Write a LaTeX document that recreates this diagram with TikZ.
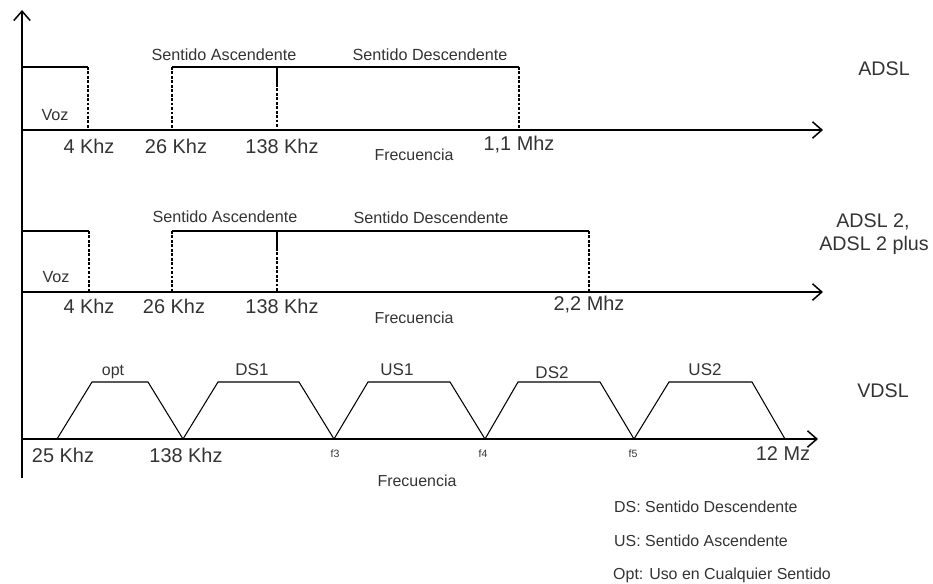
\documentclass[tikz,border=0pt]{standalone}
\usepackage{fontspec}
\setmainfont{Liberation Sans}
\usetikzlibrary{arrows.meta}
\definecolor{txt}{HTML}{333333}
\tikzset{
  axisline/.style={line width=1.6pt, -{Straight Barb[length=8pt,width=14pt,line width=1.3pt]}},
  boxline/.style={line width=1.4pt},
  dashline/.style={line width=1.4pt, dash pattern=on 2.4pt off 1.4pt},
  trap/.style={line width=0.9pt},
  big/.style={text=txt, inner sep=0pt, font=\fontsize{17}{19}\selectfont},
  mid/.style={text=txt, inner sep=0pt, font=\fontsize{13.8}{16}\selectfont},
  lab/.style={text=txt, inner sep=0pt, font=\fontsize{14.5}{16}\selectfont},
  small/.style={text=txt, inner sep=0pt, font=\fontsize{13.6}{15}\selectfont},
  tiny/.style={text=txt, inner sep=0pt, font=\fontsize{9}{10}\selectfont},
  leg/.style={text=txt, inner sep=0pt, anchor=west, font=\fontsize{13.6}{15}\selectfont},
  title/.style={text=txt, inner sep=0pt, font=\fontsize{16.8}{19}\selectfont},
}
\begin{document}
\begin{tikzpicture}[x=0.03cm, y=-0.03cm]
\useasboundingbox (0,0) rectangle (933,583);
% vertical axis
\coordinate (vb) at (22,478);
\coordinate (vt) at (22,10);
\draw[axisline] (vb) -- (vt);

% ===== ADSL =====
\coordinate (a0) at (22,130); \coordinate (aE) at (823,130);
\draw[axisline] (a0) -- (aE);
\coordinate (a1t) at (22,67); \coordinate (a2t) at (88,67); \coordinate (a2b) at (88,130);
\draw[boxline] (a1t) -- (a2t);
\draw[dashline] (a2t) -- (a2b);
\coordinate (a3t) at (172,67); \coordinate (a3b) at (172,130);
\coordinate (a4t) at (519,67); \coordinate (a4b) at (519,130);
\draw[boxline] (a3t) -- (a4t);
\draw[dashline] (a3t) -- (a3b);
\draw[dashline] (a4t) -- (a4b);
\coordinate (a5t) at (277,67); \coordinate (a5m) at (277,84); \coordinate (a5b) at (277,130);
\draw[boxline] (a5t) -- (a5m);
\draw[dashline] (a5m) -- (a5b);
\node[mid] (avoz) at (55,115) {Voz};
\node[big] (a4k) at (89,146) {4 Khz};
\node[big] (a26k) at (176,146) {26 Khz};
\node[big] (a138k) at (282,146) {138 Khz};
\node[big] (a11m) at (519,145) {1,1 Mhz};
\node[small] (afr) at (414,155) {Frecuencia};
\node[mid] (aasc) at (224,55) {Sentido Ascendente};
\node[mid] (ades) at (430,55) {Sentido Descendente};
\node[title] (adsl) at (884,69) {ADSL};

% ===== ADSL 2 =====
\coordinate (b0) at (22,292); \coordinate (bE) at (823,292);
\draw[axisline] (b0) -- (bE);
\coordinate (b1t) at (22,231); \coordinate (b2t) at (89,231); \coordinate (b2b) at (89,292);
\draw[boxline] (b1t) -- (b2t);
\draw[dashline] (b2t) -- (b2b);
\coordinate (b3t) at (172,231); \coordinate (b3b) at (172,292);
\coordinate (b4t) at (589,231); \coordinate (b4b) at (589,292);
\draw[boxline] (b3t) -- (b4t);
\draw[dashline] (b3t) -- (b3b);
\draw[dashline] (b4t) -- (b4b);
\coordinate (b5t) at (277,231); \coordinate (b5m) at (277,248); \coordinate (b5b) at (277,292);
\draw[boxline] (b5t) -- (b5m);
\draw[dashline] (b5m) -- (b5b);
\node[mid] (bvoz) at (56,277) {Voz};
\node[big] (b4k) at (89,306) {4 Khz};
\node[big] (b26k) at (174,306) {26 Khz};
\node[big] (b138k) at (282,306) {138 Khz};
\node[big] (b22m) at (589,305) {2,2 Mhz};
\node[small] (bfr) at (414,318) {Frecuencia};
\node[mid] (basc) at (225,217) {Sentido Ascendente};
\node[mid] (bdes) at (431,218) {Sentido Descendente};
\node[title] (adsl2a) at (873,222) {ADSL 2,};
\node[title] (adsl2b) at (874,245) {ADSL 2 plus};

% ===== VDSL =====
\coordinate (c0) at (22,439); \coordinate (cE) at (818,439);
\draw[axisline] (c0) -- (cE);
% trapezoid corners
\coordinate (p0) at (57,439);  \coordinate (p1) at (92,382);  \coordinate (p2) at (148,382); \coordinate (p3) at (183,439);
\coordinate (q1) at (218,382); \coordinate (q2) at (299,382); \coordinate (q3) at (334,439);
\coordinate (r1) at (368,382); \coordinate (r2) at (450,382); \coordinate (r3) at (485,439);
\coordinate (s1) at (518,382); \coordinate (s2) at (600,382); \coordinate (s3) at (634,439);
\coordinate (t1) at (669,382); \coordinate (t2) at (752,382); \coordinate (t3) at (785,439);
\draw[trap] (p0) -- (p1) -- (p2) -- (p3) -- (q1) -- (q2) -- (q3) -- (r1) -- (r2) -- (r3)
  -- (s1) -- (s2) -- (s3) -- (t1) -- (t2) -- (t3);
\node[small] (lopt) at (113,372) {opt};
\node[lab] (lds1) at (252,370) {DS1};
\node[lab] (lus1) at (397,370) {US1};
\node[lab] (lds2) at (552,373) {DS2};
\node[lab] (lus2) at (705,370) {US2};
\node[title] (vdsl) at (883,391) {VDSL};
\node[big] (c25k) at (63,455) {25 Khz};
\node[big] (c138k) at (186,455) {138 Khz};
\node[tiny] (f3) at (335,454) {f3};
\node[tiny] (f4) at (483,454) {f4};
\node[tiny] (f5) at (633,454) {f5};
\node[big] (c12m) at (783,454) {12 Mz};
\node[small] (cfr) at (417,481) {Frecuencia};

% legend
\node[leg] (lg1) at (614,507) {DS: Sentido Descendente};
\node[leg] (lg2) at (614,541) {US: Sentido Ascendente};
\node[leg] (lg3) at (613,575) {Opt: Uso en Cualquier Sentido};
\end{tikzpicture}
\end{document}
